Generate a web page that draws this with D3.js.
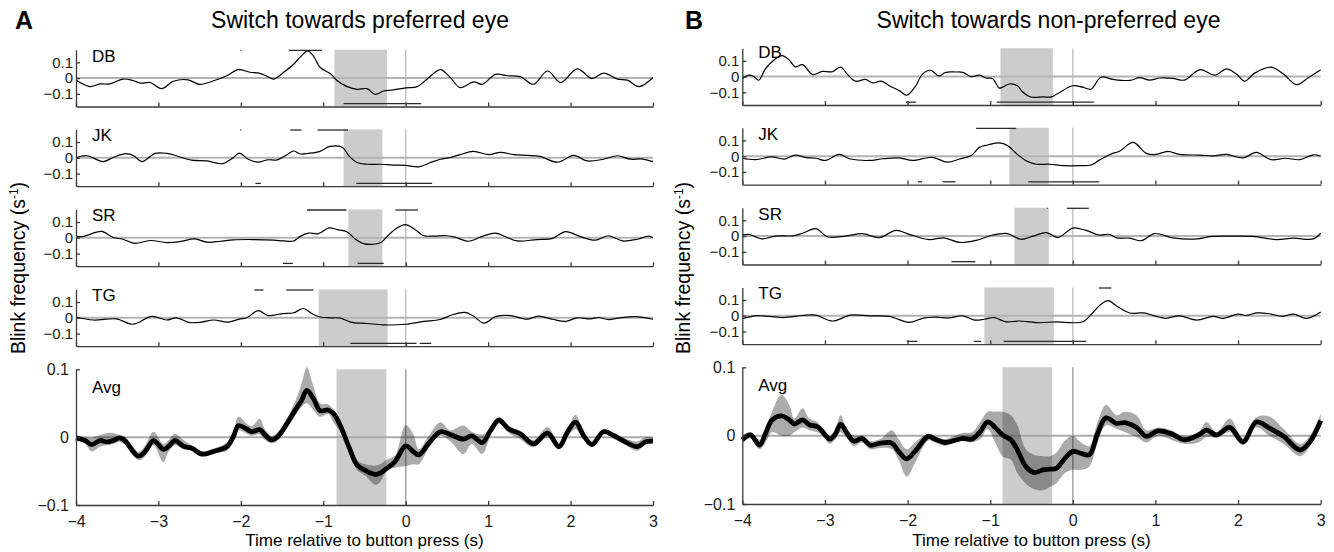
<!DOCTYPE html>
<html><head><meta charset="utf-8">
<script src="https://cdn.jsdelivr.net/npm/d3@7"></script>
<style>
body{margin:0;background:#fff}
svg text{font-family:"Liberation Sans",Arial,Helvetica,sans-serif}
</style>
</head><body>
<svg id="c" width="1334" height="552"></svg>
<script>
// ---------- DATA ----------
const timeTicks = [-4,-3,-2,-1,0,1,2,3];
const subjTicks = [-0.1,0,0.1];
const avgTicks = [-0.1,0,0.1];
const subjects = ["DB","JK","SR","TG"];
const panelLetters = ["A","B"];
const panelTitles = ["Switch towards preferred eye","Switch towards non-preferred eye"];
const xLabel = "Time relative to button press (s)";

// Panel A single-subject traces [time, blink freq]
const A_DB = [[-4,-0.013],[-3.95,-0.028],[-3.83,-0.054],[-3.71,-0.037],[-3.59,-0.037],[-3.43,-0.006],[-3.3,-0.017],[-3.22,-0.032],[-3.1,-0.028],[-2.96,-0.067],[-2.82,-0.02],[-2.64,-0.011],[-2.5,-0.04],[-2.33,-0.017],[-2.17,0.015],[-2.03,0.054],[-1.89,0.037],[-1.77,0.03],[-1.68,0.011],[-1.6,-0.006],[-1.48,0.037],[-1.36,0.088],[-1.28,0.133],[-1.19,0.172],[-1.12,0.14],[-1.04,0.069],[-0.91,0.026],[-0.83,-0.017],[-0.71,-0.054],[-0.59,-0.071],[-0.47,-0.067],[-0.37,-0.103],[-0.27,-0.082],[-0.15,-0.075],[0,-0.062],[0.14,-0.054],[0.26,-0.006],[0.42,0.054],[0.54,0.004],[0.66,-0.06],[0.825,-0.024],[0.93,-0.039],[1.09,0.024],[1.23,0.015],[1.39,0.009],[1.55,-0.039],[1.72,0.045],[1.88,-0.028],[2.08,0.058],[2.26,-0.002],[2.4,0.032],[2.57,-0.006],[2.69,-0.013],[2.83,-0.054],[3,0.004]];
const A_JK = [[-4,0],[-3.87,0.013],[-3.67,-0.024],[-3.55,0.002],[-3.39,0.026],[-3.3,0.013],[-3.2,-0.024],[-3.04,0.028],[-2.9,0.028],[-2.78,0.013],[-2.6,-0.015],[-2.41,-0.02],[-2.22,-0.037],[-2.09,0.002],[-2.02,0.03],[-1.91,-0.009],[-1.79,-0.028],[-1.68,-0.013],[-1.56,-0.013],[-1.46,0.013],[-1.36,0.043],[-1.28,0.024],[-1.18,0.028],[-1.04,0.041],[-0.92,0.072],[-0.77,0.067],[-0.69,0.013],[-0.59,-0.03],[-0.47,-0.041],[-0.31,-0.041],[-0.15,-0.046],[0,-0.048],[0.16,-0.057],[0.3,-0.03],[0.42,-0.009],[0.54,0.002],[0.66,0.02],[0.82,0.041],[1.01,0.02],[1.15,0.035],[1.31,0.02],[1.47,0.015],[1.63,0.009],[1.84,-0.028],[2.04,0.015],[2.2,-0.02],[2.4,-0.009],[2.57,0.013],[2.73,-0.009],[2.85,-0.007],[3,-0.024]];
const A_SR = [[-4,0.009],[-3.91,0.009],[-3.69,0.041],[-3.55,0.002],[-3.43,-0.009],[-3.29,-0.035],[-3.1,-0.017],[-2.9,-0.03],[-2.74,-0.024],[-2.56,-0.007],[-2.41,-0.028],[-2.25,-0.022],[-2.09,-0.013],[-1.85,-0.011],[-1.6,-0.015],[-1.48,-0.02],[-1.36,-0.02],[-1.28,0.009],[-1.18,0.03],[-1.06,0.026],[-0.93,0.063],[-0.83,0.052],[-0.71,0.037],[-0.61,-0.009],[-0.51,-0.037],[-0.39,-0.041],[-0.29,-0.026],[-0.21,0.017],[-0.11,0.061],[0,0.083],[0.1,0.057],[0.22,0.013],[0.34,0.011],[0.5,0.013],[0.6,0.004],[0.76,-0.022],[0.93,0.009],[1.09,0.03],[1.23,0.002],[1.35,-0.02],[1.59,-0.011],[1.78,-0.004],[1.94,0.039],[2.12,0.007],[2.3,-0.015],[2.46,0.013],[2.63,-0.02],[2.81,-0.009],[2.95,0.011],[3,0]];
const A_TG = [[-4,0.005],[-3.79,-0.014],[-3.51,-0.007],[-3.31,-0.041],[-3.08,0.009],[-2.9,-0.014],[-2.78,0],[-2.62,-0.03],[-2.48,-0.027],[-2.33,-0.014],[-2.15,-0.027],[-2.01,-0.007],[-1.93,0],[-1.79,0.045],[-1.67,0.014],[-1.49,0.027],[-1.36,0.032],[-1.24,0.059],[-1.14,0.027],[-1.04,0.005],[-0.92,0],[-0.79,-0.002],[-0.67,-0.027],[-0.47,-0.036],[-0.27,-0.045],[0,-0.041],[0.22,-0.023],[0.42,-0.011],[0.56,0.018],[0.72,0.034],[0.82,0.011],[0.95,-0.034],[1.09,0.007],[1.27,0.014],[1.47,-0.009],[1.61,0.011],[1.78,-0.009],[1.94,-0.023],[2.08,0],[2.24,-0.007],[2.34,0.002],[2.46,-0.011],[2.6,0],[2.79,0.007],[3,-0.009]];
// Panel A average: [time, mean, lower, upper]
const A_AVG = [[-4,-0.001,-0.004,0.002],[-3.89,-0.005,-0.01,0],[-3.81,-0.011,-0.021,-0.001],[-3.71,-0.005,-0.014,0.003],[-3.62,-0.007,-0.012,0.006],[-3.55,-0.005,-0.01,0.006],[-3.47,-0.001,-0.007,0.003],[-3.4,-0.006,-0.012,0],[-3.32,-0.019,-0.025,-0.012],[-3.24,-0.028,-0.034,-0.022],[-3.16,-0.021,-0.028,-0.012],[-3.06,-0.005,-0.012,0.008],[-2.94,-0.018,-0.037,-0.01],[-2.88,-0.014,-0.022,-0.005],[-2.8,-0.005,-0.012,0.005],[-2.7,-0.013,-0.018,-0.004],[-2.6,-0.016,-0.02,-0.012],[-2.47,-0.025,-0.028,-0.021],[-2.33,-0.021,-0.024,-0.017],[-2.17,-0.014,-0.02,-0.008],[-2.09,0.001,-0.006,0.008],[-2.03,0.017,0.01,0.03],[-1.93,0.012,0.005,0.02],[-1.87,0.008,0.002,0.016],[-1.77,0.011,0.004,0.027],[-1.71,0.004,-0.004,0.012],[-1.63,-0.004,-0.009,0.002],[-1.55,0.001,-0.005,0.008],[-1.45,0.018,0.012,0.026],[-1.35,0.038,0.03,0.05],[-1.26,0.055,0.045,0.08],[-1.2,0.069,0.05,0.103],[-1.12,0.057,0.04,0.075],[-1.04,0.039,0.03,0.05],[-0.94,0.04,0.034,0.048],[-0.87,0.034,0.02,0.04],[-0.79,0.016,0.008,0.022],[-0.69,-0.014,-0.02,-0.008],[-0.59,-0.041,-0.048,-0.034],[-0.49,-0.049,-0.057,-0.04],[-0.37,-0.055,-0.07,-0.042],[-0.31,-0.053,-0.066,-0.04],[-0.23,-0.046,-0.05,-0.033],[-0.13,-0.036,-0.045,-0.027],[0,-0.013,-0.043,0.018],[0.09,-0.021,-0.04,0.005],[0.16,-0.026,-0.04,-0.018],[0.28,-0.009,-0.016,0.002],[0.42,0.008,0.002,0.022],[0.54,0.004,-0.006,0.01],[0.7,-0.003,-0.025,0.017],[0.8,0.002,-0.01,0.008],[0.93,-0.008,-0.025,0.004],[1.03,0.01,0.003,0.013],[1.13,0.025,0.02,0.03],[1.25,0.012,0.006,0.017],[1.39,0.005,-0.003,0.008],[1.55,-0.01,-0.015,-0.004],[1.72,0.006,0,0.015],[1.86,-0.014,-0.018,-0.008],[1.96,0.007,0,0.01],[2.06,0.022,0.012,0.033],[2.16,0.002,-0.004,0.006],[2.26,-0.011,-0.014,-0.006],[2.4,0.008,0.005,0.012],[2.53,0.002,-0.003,0.004],[2.65,-0.006,-0.01,-0.002],[2.81,-0.014,-0.02,-0.006],[2.91,-0.007,-0.01,0],[3,-0.006,-0.008,0]];
// Panel A shaded windows [start, end] for DB, JK, SR, TG, Avg
const A_SHADE = [[-0.866,-0.226],[-0.753,-0.283],[-0.696,-0.283],[-1.057,-0.219],[-0.84,-0.235]];
// Panel A significance bars (above / below) per subject
const A_SIG_UP = [[[-2.006,-1.994],[-1.417,-1.016]],[[-2.006,-1.994],[-1.4,-1.266],[-1.069,-0.7]],[[-1.198,-0.72],[-0.125,0.15]],[[-1.835,-1.725],[-1.45,-1.118]]];
const A_SIG_DN = [[[-0.753,0.187]],[[-1.823,-1.757],[-0.6,0.32]],[[-1.49,-1.368],[-0.583,-0.267]],[[-0.672,0.13],[0.17,0.309]]];

// Panel B single-subject traces
const B_DB = [[-4,-0.013],[-3.92,0.009],[-3.86,0],[-3.8,-0.022],[-3.72,0.049],[-3.62,0.104],[-3.52,0.133],[-3.43,0.104],[-3.36,0.062],[-3.27,0.076],[-3.15,0.013],[-3.03,0.033],[-2.91,0.031],[-2.81,0.06],[-2.73,0.016],[-2.63,-0.029],[-2.51,-0.018],[-2.42,-0.04],[-2.32,-0.029],[-2.22,-0.058],[-2.1,-0.089],[-2.01,-0.118],[-1.9,-0.058],[-1.82,0.016],[-1.72,0.04],[-1.62,0.004],[-1.54,0.027],[-1.42,0.029],[-1.33,0.027],[-1.23,0],[-1.13,0.009],[-1.05,-0.009],[-0.97,-0.013],[-0.89,-0.073],[-0.85,-0.067],[-0.77,-0.047],[-0.67,-0.058],[-0.61,-0.096],[-0.51,-0.129],[-0.36,-0.129],[-0.26,-0.129],[-0.18,-0.107],[0,-0.058],[0.12,-0.067],[0.22,-0.08],[0.34,-0.004],[0.49,-0.018],[0.69,-0.024],[0.81,-0.007],[0.93,-0.022],[1.05,-0.009],[1.21,-0.011],[1.35,-0.022],[1.54,0.044],[1.72,0.009],[1.86,0.049],[1.98,0.016],[2.08,-0.029],[2.2,0.022],[2.4,0.06],[2.55,0.016],[2.71,-0.051],[2.85,-0.007],[3,0.044]];
const B_JK = [[-4,-0.013],[-3.84,-0.022],[-3.64,-0.004],[-3.49,-0.018],[-3.36,0.007],[-3.23,-0.009],[-3.11,-0.013],[-2.99,-0.027],[-2.83,0.011],[-2.69,-0.018],[-2.46,-0.027],[-2.3,-0.016],[-2.1,-0.011],[-1.94,-0.027],[-1.7,-0.007],[-1.52,-0.038],[-1.37,-0.018],[-1.23,0.004],[-1.13,0.056],[-1.03,0.071],[-0.89,0.084],[-0.79,0.067],[-0.67,0.011],[-0.55,-0.033],[-0.44,-0.051],[-0.28,-0.051],[-0.12,-0.06],[0.08,-0.06],[0.22,-0.056],[0.32,-0.025],[0.45,0.011],[0.57,0.033],[0.73,0.087],[0.89,0.018],[1.01,0.011],[1.15,0.031],[1.29,0.011],[1.54,0.007],[1.7,0.002],[1.86,0.011],[2.06,-0.011],[2.22,0.024],[2.4,-0.022],[2.57,-0.013],[2.75,-0.022],[2.91,0.009],[3,0]];
const B_SR = [[-4,0.007],[-3.92,0.011],[-3.76,-0.018],[-3.6,0],[-3.39,0.002],[-3.27,0.018],[-3.11,0.047],[-2.97,-0.004],[-2.75,0],[-2.55,0.016],[-2.34,-0.009],[-2.14,0.036],[-1.98,0.011],[-1.74,-0.022],[-1.56,-0.011],[-1.37,-0.04],[-1.17,-0.027],[-0.97,0.007],[-0.79,0.016],[-0.63,-0.02],[-0.48,0],[-0.32,0.022],[-0.18,-0.009],[0,0.051],[0.16,0.036],[0.32,0.007],[0.44,0.011],[0.53,-0.011],[0.69,-0.013],[0.83,-0.029],[0.99,0.016],[1.21,-0.011],[1.5,-0.018],[1.68,-0.002],[1.94,0],[2.18,-0.002],[2.46,-0.022],[2.67,-0.013],[2.91,-0.018],[3,0.018]];
const B_TG = [[-4,-0.018],[-3.84,0],[-3.67,-0.004],[-3.5,-0.011],[-3.27,0.002],[-3.11,0.004],[-2.91,-0.033],[-2.69,0.004],[-2.46,0],[-2.22,-0.004],[-1.98,-0.042],[-1.82,-0.016],[-1.66,-0.009],[-1.5,-0.013],[-1.33,0],[-1.19,-0.027],[-1.07,-0.022],[-0.95,-0.011],[-0.81,-0.038],[-0.65,-0.033],[-0.4,-0.044],[-0.2,-0.038],[0,-0.044],[0.12,-0.038],[0.24,0.018],[0.34,0.073],[0.43,0.096],[0.53,0.062],[0.69,0.018],[0.85,0.018],[1.05,-0.009],[1.13,-0.016],[1.29,0],[1.5,-0.027],[1.7,-0.004],[1.82,-0.016],[2,0.011],[2.1,0.002],[2.22,0.018],[2.38,0.013],[2.53,-0.004],[2.67,0.011],[2.83,-0.016],[3,0.024]];
const B_AVG = [[-4,-0.006,-0.012,0],[-3.9,0.001,-0.004,0.005],[-3.79,-0.014,-0.02,-0.006],[-3.72,0.003,-0.01,0.01],[-3.64,0.023,0.005,0.035],[-3.53,0.029,0,0.06],[-3.43,0.023,0,0.045],[-3.37,0.017,0.005,0.025],[-3.27,0.023,0.012,0.04],[-3.19,0.016,0.008,0.025],[-3.09,0.013,0.005,0.02],[-3.03,0.006,0,0.01],[-2.94,-0.005,-0.012,0],[-2.87,0.003,-0.005,0.012],[-2.81,0.017,0.005,0.03],[-2.73,0.003,-0.004,0.008],[-2.65,-0.008,-0.015,0],[-2.55,-0.004,-0.01,0],[-2.45,-0.014,-0.02,-0.008],[-2.33,-0.011,-0.018,-0.005],[-2.19,-0.011,-0.02,0.008],[-2.11,-0.023,-0.035,-0.005],[-2.01,-0.034,-0.06,-0.02],[-1.91,-0.023,-0.04,-0.01],[-1.75,-0.001,-0.007,0.003],[-1.67,-0.005,-0.01,0],[-1.55,-0.01,-0.015,-0.005],[-1.43,-0.007,-0.01,0],[-1.33,-0.004,-0.008,0.004],[-1.22,-0.005,-0.01,0.005],[-1.12,0.006,-0.005,0.02],[-1.03,0.02,0.01,0.035],[-0.94,0.012,-0.01,0.035],[-0.85,0.001,-0.03,0.035],[-0.75,-0.006,-0.035,0.03],[-0.67,-0.021,-0.055,0.015],[-0.57,-0.045,-0.07,-0.02],[-0.47,-0.054,-0.078,-0.028],[-0.36,-0.05,-0.08,-0.03],[-0.28,-0.049,-0.075,-0.03],[-0.2,-0.048,-0.07,-0.025],[-0.1,-0.034,-0.055,-0.008],[0,-0.023,-0.05,0],[0.1,-0.026,-0.05,-0.01],[0.2,-0.028,-0.045,-0.015],[0.3,0.003,-0.01,0.02],[0.4,0.026,0.015,0.045],[0.53,0.018,0.01,0.03],[0.63,0.019,0.005,0.035],[0.77,0.012,-0.002,0.03],[0.89,-0.001,-0.01,0.008],[1.03,0.007,0,0.012],[1.19,0.003,-0.006,0.008],[1.35,-0.006,-0.012,-0.001],[1.52,0.001,-0.01,0.005],[1.62,0.008,-0.002,0.02],[1.74,0.001,-0.003,0.005],[1.9,0.012,0.005,0.025],[2.06,-0.009,-0.014,-0.004],[2.22,0.02,0.012,0.027],[2.38,0.011,0,0.028],[2.55,-0.001,-0.012,0.01],[2.75,-0.021,-0.03,-0.012],[2.87,-0.009,-0.016,0],[3,0.022,0.014,0.032]];
const B_SHADE = [[-0.876,-0.242],[-0.767,-0.29],[-0.707,-0.29],[-1.07,-0.23],[-0.85,-0.25]];
const B_SIG_UP = [[],[[-1.17,-0.686]],[[-0.315,-0.305],[-0.073,0.194]],[[0.315,0.465]]];
const B_SIG_DN = [[[-2.02,-1.9],[-0.92,0.255]],[[-1.874,-1.825],[-1.576,-1.42],[-0.54,0.32]],[[-1.47,-1.18]],[[-2.01,-1.88],[-1.2,-1.11],[-0.836,0.162]]];

// ---------- DRAW ----------
const svg = d3.select("#c");
const FONT = '"Liberation Sans",Arial,Helvetica,sans-serif';
const AXC = "#3a3a3a";
const panels = [
  {x0:76, x1:653, tops:[49.7,129.4,209.4,289.4], h:56.8, avg:[369.3,505], traces:[A_DB,A_JK,A_SR,A_TG], avgData:A_AVG, shade:A_SHADE, up:A_SIG_UP, dn:A_SIG_DN,
   letterX:15, titleX:360, ylabX:25, lblDy:[12,12,11.5,11.5]},
  {x0:742.3, x1:1320.7, tops:[48.2,127.8,207.7,287.4], h:56.8, avg:[367.3,504], traces:[B_DB,B_JK,B_SR,B_TG], avgData:B_AVG, shade:B_SHADE, up:B_SIG_UP, dn:B_SIG_DN,
   letterX:685, titleX:1048.5, ylabX:690, lblDy:[9.5,12.5,12,12]}
];
const fmtY = d => d === 0 ? "0" : d3.format(".1f")(d);

function styleAxis(g, fs){
  g.attr("font-family", FONT).attr("font-size", fs);
  g.selectAll("path.domain").attr("stroke", AXC).attr("stroke-width", 1.3);
  g.selectAll(".tick line").attr("stroke", AXC).attr("stroke-width", 1.3);
  g.selectAll(".tick text").attr("fill", "#1a1a1a");
}

panels.forEach((p, pi) => {
  const x = d3.scaleLinear().domain([-4,3]).range([p.x0, p.x1]);

  // panel letter & title
  svg.append("text").attr("x", p.letterX).attr("y", 29).attr("font-size", 25).attr("font-weight","bold").text(panelLetters[pi]);
  svg.append("text").attr("x", p.titleX).attr("y", 28).attr("text-anchor","middle").attr("font-size", 23).text(panelTitles[pi]);

  // subject subplots
  subjects.forEach((s, i) => {
    const top = p.tops[i], bot = top + p.h;
    const y = d3.scaleLinear().domain([-0.18,0.18]).range([bot, top]);
    const g = svg.append("g");
    const sh = p.shade[i];
    g.append("rect").attr("x", x(sh[0])).attr("width", x(sh[1]) - x(sh[0])).attr("y", top).attr("height", bot-top).attr("fill", "#cccccc");
    g.append("line").attr("x1", x(-4)).attr("x2", x(3)).attr("y1", y(0)).attr("y2", y(0)).attr("stroke", "#b3b3b3").attr("stroke-width", 2);
    g.append("line").attr("x1", x(0)).attr("x2", x(0)).attr("y1", top).attr("y2", bot).attr("stroke", "#b8b8b8").attr("stroke-width", 1.2);
    g.append("path").datum(p.traces[i])
      .attr("d", d3.line().x(d=>x(d[0])).y(d=>y(d[1])).curve(d3.curveCatmullRom.alpha(0.5)))
      .attr("fill","none").attr("stroke","#000").attr("stroke-width",1.2);
    // significance bars
    p.up[i].forEach(b => g.append("line").attr("x1", x(b[0])).attr("x2", x(b[1])).attr("y1", top+0.6).attr("y2", top+0.6).attr("stroke","#2a2a2a").attr("stroke-width",1.3));
    p.dn[i].forEach(b => g.append("line").attr("x1", x(b[0])).attr("x2", x(b[1])).attr("y1", bot-2.8).attr("y2", bot-2.8).attr("stroke","#2a2a2a").attr("stroke-width",1.3));
    // axes
    const gx = g.append("g").attr("transform", `translate(0,${bot})`)
      .call(d3.axisBottom(x).tickValues(timeTicks).tickSizeInner(-4).tickSizeOuter(0).tickFormat(""));
    styleAxis(gx, 13);
    const gy = g.append("g").attr("transform", `translate(${x(-4)},0)`)
      .call(d3.axisLeft(y).tickValues(subjTicks).tickSizeInner(-4).tickSizeOuter(0).tickPadding(3).tickFormat(fmtY));
    styleAxis(gy, 15);
    g.append("text").attr("x", x(-4) + 16).attr("y", top + p.lblDy[i]).attr("font-size", 17).text(s);
  });

  // average subplot
  const top = p.avg[0], bot = p.avg[1];
  const y = d3.scaleLinear().domain([-0.1,0.1]).range([bot, top]);
  const g = svg.append("g");
  const sh = p.shade[4];
  g.append("rect").attr("x", x(sh[0])).attr("width", x(sh[1]) - x(sh[0])).attr("y", top).attr("height", bot-top).attr("fill", "#cccccc");
  g.append("line").attr("x1", x(-4)).attr("x2", x(3)).attr("y1", y(0)).attr("y2", y(0)).attr("stroke", "#aaaaaa").attr("stroke-width", 2);
  g.append("line").attr("x1", x(0)).attr("x2", x(0)).attr("y1", top).attr("y2", bot).attr("stroke", "#a8a8a8").attr("stroke-width", 1.6);
  g.append("path").datum(p.avgData)
    .attr("d", d3.area().x(d=>x(d[0])).y0(d=>y(d[2])).y1(d=>y(d[3])).curve(d3.curveCatmullRom.alpha(0.5)))
    .attr("fill", "#000").attr("fill-opacity", 0.33);
  g.append("path").datum(p.avgData)
    .attr("d", d3.line().x(d=>x(d[0])).y(d=>y(d[1])).curve(d3.curveCatmullRom.alpha(0.5)))
    .attr("fill","none").attr("stroke","#000").attr("stroke-width",4.8).attr("stroke-linejoin","round");
  const gx = g.append("g").attr("transform", `translate(0,${bot})`)
    .call(d3.axisBottom(x).tickValues(timeTicks).tickSizeInner(-4).tickSizeOuter(0).tickPadding(11).tickFormat(d3.format("d")));
  styleAxis(gx, 16);
  const gy = g.append("g").attr("transform", `translate(${x(-4)},0)`)
    .call(d3.axisLeft(y).tickValues(avgTicks).tickSizeInner(-4).tickSizeOuter(0).tickPadding(7).tickFormat(fmtY));
  styleAxis(gy, 16);
  g.append("text").attr("x", x(-4) + 16).attr("y", top + 23.5).attr("font-size", 17).text("Avg");

  // axis labels
  svg.append("text").attr("x", (p.x0+p.x1)/2).attr("y", 546).attr("text-anchor","middle").attr("font-size", 17).text(xLabel);
  const yl = svg.append("text").attr("transform", `translate(${p.ylabX},268) rotate(-90)`).attr("text-anchor","middle").attr("font-size", 19.5);
  yl.append("tspan").text("Blink frequency (s");
  yl.append("tspan").attr("dy", -7).attr("font-size", 12).text("-1");
  yl.append("tspan").attr("dy", 7).text(")");
});
svg.selectAll("text").attr("font-family", FONT);
</script>
</body></html>
